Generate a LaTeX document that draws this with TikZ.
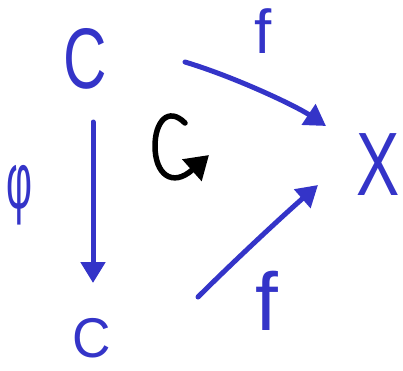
\documentclass[tikz,border=0pt]{standalone}
\usepackage{fontspec}
\setmainfont{Liberation Sans}
\usetikzlibrary{arrows.meta}
\definecolor{pen}{RGB}{52,52,200}
\begin{document}
\begin{tikzpicture}[x=1pt,y=-1pt,
  lbl/.style={text=pen,inner sep=0pt,anchor=base},
  arr/.style={draw=pen,line width=5pt,line cap=round,-{Triangle[length=21pt,width=24pt]}},
  circarr/.style={draw=black,line width=5.5pt,line cap=round,-{Triangle[length=23pt,width=28pt]}}
]
\useasboundingbox (0,0) rectangle (403,370);
\node[lbl,font=\fontsize{86}{90}\selectfont] (topC) at (85,88) {\scalebox{0.7}[1]{C}};
\node[lbl,font=\fontsize{56}{60}\selectfont] (botC) at (92,357) {\scalebox{0.95}[1]{C}};
\node[lbl,font=\fontsize{90}{94}\selectfont] (X) at (378,195) {\scalebox{0.72}[1]{X}};
\node[lbl,font=\fontsize{62}{66}\selectfont] (f1) at (263,53) {f};
\node[lbl,font=\fontsize{82}{86}\selectfont] (f2) at (267,330) {f};
\node[lbl,font=\fontsize{80}{84}\selectfont] (phi) at (19,208) {\scalebox{0.5}[1]{φ}};
% connectors
\draw[arr] ([shift={(8,34)}]topC.base) -- ([shift={(1,-74)}]botC.base);
\draw[arr] ([shift={(100,-26)}]topC.base) .. controls +(50,15) and +(-30,-20) .. ([shift={(-52,-69)}]X.base);
\draw[arr] ([shift={(106,-60)}]botC.base) .. controls +(30,-30) and +(-40,35) .. ([shift={(-60,-10)}]X.base);
% rotation arrow
\draw[circarr] (185,123) .. controls (168,106) and (155,122) .. (155,146) .. controls (155,174) and (172,188) .. (209,155);
\end{tikzpicture}
\end{document}
